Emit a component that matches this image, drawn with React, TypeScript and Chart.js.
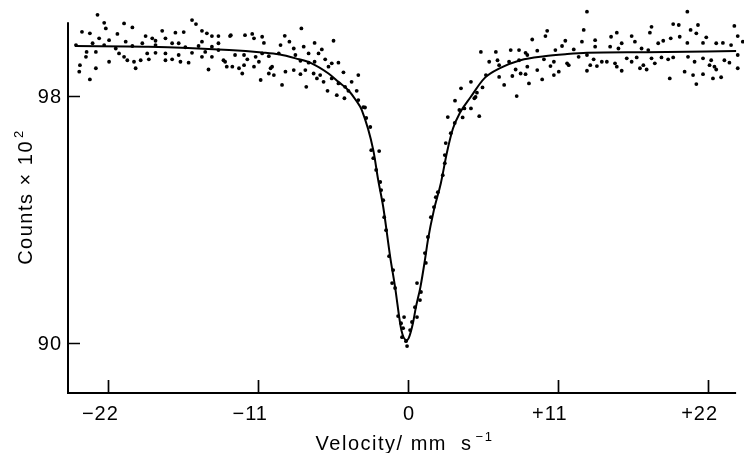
import React, { useEffect, useRef } from "react";
import { Chart, registerables } from "chart.js";

Chart.register(...registerables);

// ---- axis ranges (data units) ----
const X_MIN = -25.04;
const X_MAX = 24.67;
const Y_MIN = 88.36;
const Y_MAX = 100.85;
const X_AXIS_END = 24.09;
const Y_AXIS_TOP = 100.39;

// ---- ticks ----
const xTickValues = [-22, -11, 0, 11, 22];
const xTickLabels = ["\u221222", "\u221211", "0", "+11", "+22"];
const yTickValues = [90, 98];
const yTickLabels = ["90", "98"];

// ---- titles ----
const xTitleMain = "Velocity/ mm  s";
const xTitleSup = "\u22121";
const yTitleMain = "Counts \u00d7 10";
const yTitleSup = "2";

// ---- measured points [velocity mm/s, counts x 10^2] ----
const leftWing: [number, number][] = [
  [-22.80, 100.63], [-22.31, 100.37], [-20.85, 100.35], [-20.24, 100.22], [-22.19, 100.19], [-23.94, 100.08],
  [-23.36, 100.03], [-21.34, 100.01], [-18.05, 100.11], [-17.08, 100.05], [-16.47, 100.07], [-15.86, 100.46],
  [-15.57, 100.33], [-15.13, 100.11], [-14.77, 100.03], [-14.40, 99.94], [-13.92, 99.94], [-13.07, 99.94],
  [-22.68, 99.87], [-21.95, 99.81], [-20.73, 99.76], [-19.27, 99.94], [-18.78, 99.87], [-18.54, 99.79],
  [-17.81, 99.87], [-17.32, 99.71], [-16.84, 99.71], [-15.13, 99.76], [-13.92, 99.71], [-24.38, 99.65],
  [-23.16, 99.71], [-22.31, 99.65], [-21.46, 99.54], [-20.24, 99.62], [-19.51, 99.71], [-18.54, 99.65],
  [-16.35, 99.58], [-15.38, 99.62], [-14.40, 99.60], [-23.60, 99.43], [-22.92, 99.43], [-23.65, 99.27],
  [-21.22, 99.38], [-20.85, 99.27], [-19.15, 99.38], [-18.54, 99.40], [-17.81, 99.38], [-16.84, 99.33],
  [-15.86, 99.40], [-14.89, 99.43], [-13.92, 99.49], [-21.95, 99.11], [-20.61, 99.16], [-20.12, 99.11],
  [-19.63, 99.16], [-19.03, 99.19], [-17.81, 99.16], [-17.32, 99.19], [-16.71, 99.11], [-16.11, 99.08],
  [-15.13, 99.27], [-14.40, 99.27], [-13.55, 99.16], [-24.09, 99.00], [-22.92, 98.90], [-20.00, 98.90],
  [-14.65, 98.86], [-13.31, 98.95], [-24.14, 98.79], [-23.36, 98.54], [-13.43, 99.11],
];

const leftShoulder: [number, number][] = [
  [-7.83, 100.19], [-13.01, 99.97], [-11.97, 99.97], [-11.44, 100.01], [-11.31, 99.87], [-10.71, 99.92],
  [-10.58, 99.72], [-9.05, 99.95], [-8.71, 99.76], [-9.36, 99.65], [-8.39, 99.54], [-7.66, 99.60],
  [-6.86, 99.72], [-5.47, 99.79], [-7.30, 99.38], [-6.57, 99.38], [-6.33, 99.51], [-12.70, 99.33],
  [-12.04, 99.33], [-11.80, 99.19], [-11.19, 99.27], [-10.71, 99.38], [-10.22, 99.29], [-9.49, 99.38],
  [-8.27, 99.33], [-7.90, 99.14], [-7.30, 99.08], [-6.86, 99.11], [-6.08, 99.19], [-5.60, 99.06],
  [-5.11, 99.08], [-12.90, 98.95], [-12.41, 98.90], [-12.04, 99.00], [-11.31, 98.95], [-10.95, 99.11],
  [-9.98, 98.95], [-9.00, 98.79], [-8.39, 98.84], [-7.90, 98.71], [-7.54, 98.84], [-6.93, 98.73],
  [-6.45, 98.68], [-5.84, 98.95], [-4.74, 98.77], [-3.65, 98.68], [-12.17, 98.73], [-10.22, 98.73],
  [-10.09, 98.90], [-10.82, 98.52], [-9.85, 98.68], [-6.69, 98.57], [-6.20, 98.46], [-5.60, 98.57],
  [-5.11, 98.41], [-4.14, 98.46], [-9.25, 98.36], [-7.47, 98.30], [-5.91, 98.17], [-5.23, 98.03],
  [-4.62, 98.30], [-4.38, 98.17], [-4.67, 97.93], [-3.77, 98.17], [-3.65, 97.87], [-3.16, 97.63],
];

const dipPoints: [number, number][] = [
  [-3.28, 97.64], [-3.07, 97.29], [-2.77, 97.00], [-2.70, 96.25], [-2.12, 96.22], [-2.55, 95.99],
  [-2.34, 95.61], [-2.04, 95.22], [-1.97, 94.96], [-1.82, 94.63], [-1.75, 94.08], [-1.61, 93.66],
  [-1.39, 92.82], [-1.09, 92.37], [-1.17, 91.95], [-0.95, 91.79], [-0.73, 90.88], [-0.51, 90.65],
  [-0.29, 90.85], [-0.36, 90.49], [-0.44, 90.20], [-0.15, 90.07], [-0.07, 89.91], [0.15, 90.43],
  [0.29, 90.69], [0.66, 90.85], [0.51, 91.17], [0.88, 91.40], [0.95, 91.66], [0.66, 91.95],
  [1.31, 92.60], [1.24, 92.92], [1.46, 93.44], [1.68, 94.08], [1.90, 94.41], [2.04, 94.73],
  [2.19, 94.89], [2.55, 95.44], [2.70, 95.83], [2.70, 96.09], [2.77, 96.48], [3.14, 96.80],
  [3.43, 97.13], [2.92, 97.32],
];

const rightShoulder: [number, number][] = [
  [13.14, 100.73], [10.22, 100.11], [10.09, 99.94], [9.12, 99.83], [11.55, 99.79], [11.31, 99.62],
  [12.77, 99.76], [12.90, 100.14], [5.35, 99.43], [6.45, 99.43], [7.54, 99.49], [8.15, 99.49],
  [8.63, 99.40], [9.49, 99.47], [10.82, 99.49], [12.17, 99.51], [5.96, 99.11], [6.57, 99.16],
  [7.42, 99.11], [8.15, 99.16], [8.76, 99.33], [9.98, 99.19], [10.71, 99.11], [11.68, 99.06],
  [12.53, 99.27], [6.69, 99.00], [7.90, 98.86], [8.76, 98.95], [9.49, 98.84], [10.46, 98.97],
  [11.07, 98.79], [11.80, 99.00], [5.72, 98.68], [6.69, 98.62], [7.66, 98.65], [8.27, 98.73],
  [8.63, 98.71], [9.85, 98.54], [8.88, 98.41], [10.71, 98.68], [7.06, 98.36], [4.62, 98.46],
  [3.89, 98.25], [5.06, 98.11], [5.47, 98.28], [4.87, 97.93], [7.98, 98.00], [3.45, 97.85],
  [4.14, 97.60], [4.62, 97.60], [3.77, 97.55], [5.23, 97.35], [4.01, 97.31], [4.96, 97.97],
];

const rightWing: [number, number][] = [
  [20.51, 100.73], [15.33, 100.05], [14.91, 99.92], [13.74, 99.81], [16.42, 99.94], [16.66, 99.76],
  [17.88, 100.24], [17.76, 100.05], [19.47, 100.33], [19.88, 100.30], [21.29, 100.30], [20.75, 100.14],
  [21.17, 100.03], [19.95, 99.92], [19.29, 99.87], [18.74, 99.79], [18.37, 99.71], [21.90, 99.90],
  [23.96, 100.27], [24.21, 99.94], [24.58, 99.76], [21.66, 99.72], [22.63, 99.71], [23.12, 99.72],
  [23.72, 99.65], [20.51, 99.72], [15.69, 99.71], [14.84, 99.60], [15.45, 99.54], [17.15, 99.54],
  [17.64, 99.49], [13.74, 99.60], [13.14, 99.33], [13.63, 99.19], [14.23, 99.11], [14.60, 99.11],
  [15.20, 99.06], [16.06, 99.22], [16.42, 99.11], [16.79, 99.25], [17.88, 99.22], [18.61, 99.25],
  [19.47, 99.25], [20.56, 99.27], [21.04, 99.11], [21.66, 99.22], [22.26, 99.16], [23.23, 99.16],
  [23.60, 99.08], [24.21, 99.33], [13.38, 99.00], [13.87, 98.97], [15.33, 98.95], [17.28, 99.00],
  [18.12, 99.06], [19.10, 99.19], [22.14, 99.00], [22.50, 98.95], [24.21, 98.90], [13.14, 98.82],
  [15.69, 98.82], [17.03, 98.90], [17.52, 98.86], [20.31, 98.79], [20.93, 98.68], [21.66, 98.71],
  [22.63, 98.86], [19.22, 98.57], [21.17, 98.39], [22.39, 98.57], [22.99, 98.61],
];

// ---- fitted curve ----
const fitCurve: [number, number][] = [
  [-24.45, 99.62], [-19.05, 99.60], [-13.14, 99.49], [-10.73, 99.41], [-9.49, 99.35], [-8.25, 99.22],
  [-7.08, 99.06], [-5.84, 98.73], [-5.11, 98.46], [-4.38, 98.19], [-3.80, 97.85], [-3.40, 97.55],
  [-2.55, 96.25], [-2.19, 95.28], [-1.82, 94.41], [-1.31, 92.80], [-0.95, 91.82], [-0.49, 90.43],
  [-0.12, 90.10], [0.05, 90.17], [0.36, 90.65], [0.58, 91.17], [0.91, 91.82], [1.24, 92.69],
  [1.46, 93.34], [1.90, 94.31], [2.41, 95.18], [2.85, 96.16], [3.30, 96.95], [3.80, 97.45],
  [4.60, 97.97], [5.62, 98.58], [6.79, 98.91], [8.25, 99.16], [10.0, 99.29], [11.68, 99.36],
  [13.14, 99.40], [17.52, 99.42], [24.09, 99.46],
];

const FONT = '"Liberation Sans", Arial, sans-serif';

const axesPlugin = {
  id: "mossbauerAxes",
  afterDraw(chart: any) {
    const { ctx, scales } = chart;
    const xs = scales.x;
    const ys = scales.y;
    const x0 = xs.getPixelForValue(X_MIN);
    const yb = ys.getPixelForValue(Y_MIN);
    ctx.save();
    ctx.strokeStyle = "#000";
    ctx.fillStyle = "#000";
    ctx.lineCap = "butt";
    // axis lines
    ctx.lineWidth = 2;
    ctx.beginPath();
    ctx.moveTo(x0 + 1, ys.getPixelForValue(Y_AXIS_TOP));
    ctx.lineTo(x0 + 1, yb - 1);
    ctx.lineTo(xs.getPixelForValue(X_AXIS_END), yb - 1);
    ctx.stroke();
    // tick marks (inward)
    ctx.lineWidth = 1.7;
    ctx.beginPath();
    xTickValues.forEach((v) => {
      const px = Math.round(xs.getPixelForValue(v)) + 0.5;
      ctx.moveTo(px, yb - 1);
      ctx.lineTo(px, yb - 14);
    });
    yTickValues.forEach((v) => {
      const py = Math.round(ys.getPixelForValue(v)) + 0.5;
      ctx.moveTo(x0 + 1, py);
      ctx.lineTo(x0 + 13, py);
    });
    ctx.stroke();

    // tick labels
    ctx.font = `20px ${FONT}`;
    (ctx as any).letterSpacing = "1px";
    ctx.textBaseline = "alphabetic";
    ctx.textAlign = "center";
    xTickValues.forEach((v, i) => {
      const lbl = xTickLabels[i];
      const signed = lbl.length > 1 && (lbl[0] === "+" || lbl[0] === "\u2212");
      ctx.fillText(lbl, xs.getPixelForValue(v) + (signed ? -8 : 1), yb + 26);
    });
    ctx.textAlign = "right";
    ctx.textBaseline = "middle";
    yTickValues.forEach((v, i) => {
      ctx.fillText(yTickLabels[i], x0 - 5, ys.getPixelForValue(v) + 1);
    });

    // x title
    ctx.textAlign = "left";
    ctx.textBaseline = "alphabetic";
    (ctx as any).letterSpacing = "1.5px";
    ctx.font = `20px ${FONT}`;
    const wMain = ctx.measureText(xTitleMain).width;
    ctx.font = `13px ${FONT}`;
    const wSup = ctx.measureText(xTitleSup).width;
    const total = wMain + 3 + wSup;
    const cx = (chart.chartArea.left + chart.chartArea.right) / 2 - 1;
    const startX = cx - total / 2;
    const baseY = 450;
    ctx.font = `20px ${FONT}`;
    ctx.fillText(xTitleMain, startX, baseY);
    ctx.font = `13px ${FONT}`;
    ctx.fillText(xTitleSup, startX + wMain + 3, baseY - 9);

    // y title (rotated)
    ctx.save();
    const cy = 197;
    ctx.translate(32, cy);
    ctx.rotate(-Math.PI / 2);
    ctx.font = `20px ${FONT}`;
    const yMainW = ctx.measureText(yTitleMain).width;
    ctx.font = `13px ${FONT}`;
    const ySupW = ctx.measureText(yTitleSup).width;
    const yTotal = yMainW + 2 + ySupW;
    ctx.font = `20px ${FONT}`;
    ctx.fillText(yTitleMain, -yTotal / 2, 0);
    ctx.font = `13px ${FONT}`;
    ctx.fillText(yTitleSup, -yTotal / 2 + yMainW + 2, -9);
    ctx.restore();

    ctx.restore();
  },
};

export default function App() {
  const canvasRef = useRef<HTMLCanvasElement | null>(null);

  useEffect(() => {
    const canvas = canvasRef.current;
    if (!canvas) return;
    const allPoints = [...leftWing, ...leftShoulder, ...dipPoints, ...rightShoulder, ...rightWing].map(
      ([x, y]) => ({ x, y })
    );
    const curve = fitCurve.map(([x, y]) => ({ x, y }));
    const chart = new Chart(canvas, {
      type: "scatter",
      data: {
        datasets: [
          {
            label: "fit",
            data: curve,
            showLine: true,
            borderColor: "#000",
            borderWidth: 2,
            pointRadius: 0,
            cubicInterpolationMode: "monotone",
            fill: false,
          } as any,
          {
            label: "counts",
            data: allPoints,
            showLine: false,
            pointRadius: 1.9,
            pointBackgroundColor: "#000",
            pointBorderColor: "#000",
            pointBorderWidth: 0,
            pointStyle: "circle",
          },
        ],
      },
      options: {
        responsive: false,
        animation: false,
        devicePixelRatio: 1,
        layout: { padding: { left: 67, right: 0, top: 8, bottom: 453 - 394 } },
        plugins: {
          legend: { display: false },
          tooltip: { enabled: false },
        },
        scales: {
          x: { type: "linear", min: X_MIN, max: X_MAX, display: false },
          y: { type: "linear", min: Y_MIN, max: Y_MAX, display: false },
        },
      },
      plugins: [axesPlugin],
    });
    return () => chart.destroy();
  }, []);

  return (
    <div style={{ position: "absolute", left: 0, top: 0, width: 748, height: 453, background: "#fff" }}>
      <canvas ref={canvasRef} width={748} height={453} style={{ display: "block" }} />
    </div>
  );
}
